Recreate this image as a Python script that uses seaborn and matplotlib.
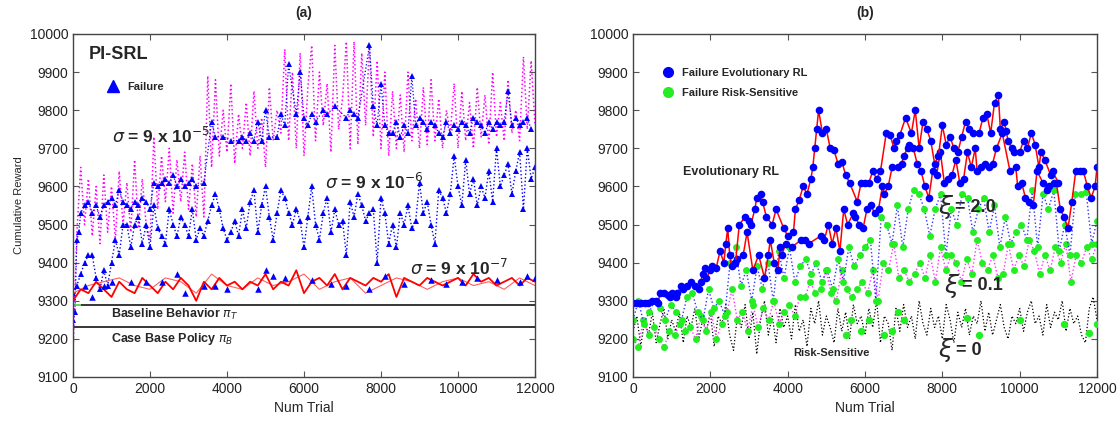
import numpy as np
import seaborn as sns
import matplotlib.pyplot as plt
from matplotlib.lines import Line2D

# ---------------- panel (a) data: PI-SRL ----------------
# sigma = 9e-5 (spiky magenta trace), one value every 100 trials
sig5_trace = [9160, 9480, 9650, 9500, 9620, 9470, 9600, 9450, 9630, 9480,
              9600, 9460, 9640, 9500, 9610, 9480, 9670, 9490, 9620, 9500,
              9460, 9730, 9540, 9680, 9560, 9700, 9530, 9670, 9560, 9690,
              9540, 9660, 9520, 9680, 9520, 9890, 9650, 9880, 9680, 9800,
              9690, 9870, 9660, 9790, 9700, 9820, 9680, 9850, 9700, 9780,
              9650, 9860, 9720, 9800, 9740, 9960, 9720, 9900, 9700, 9950,
              9680, 9860, 9970, 9720, 9900, 9760, 9870, 9690, 9970, 9750,
              9830, 9980, 9700, 9980, 9710, 9950, 9760, 9970, 9730, 9930,
              9700, 9900, 9680, 9850, 9700, 9840, 9690, 9900, 9720, 9830,
              9700, 9860, 9710, 9880, 9720, 9830, 9700, 9800, 9740, 9870,
              9700, 9850, 9720, 9820, 9700, 9860, 9730, 9840, 9710, 9900,
              9730, 9820, 9720, 9880, 9740, 9800, 9720, 9940, 9750, 9930, 9760]

# sigma = 9e-5 failures (blue triangles)
sig5_fail_x = [0, 50, 100, 150, 200, 300, 400, 500, 600, 700, 800, 900, 1000,
               1100, 1200, 1300, 1400, 1500, 1600, 1700, 1800, 1900, 2000, 2100,
               2200, 2300, 2400, 2500, 2600, 2700, 2800, 2900, 3000, 3100, 3200,
               3400, 3600, 3700, 3900, 4100, 4300, 4400, 4500, 4600, 4700, 4800,
               4900, 5000, 5100, 5300, 5400, 5500, 5600, 5800, 5900, 6000, 6100,
               6200, 6300, 6500, 6600, 6800, 7100, 7200, 7300, 7400, 7700, 7800,
               7900, 8000, 8100, 8200, 8300, 8400, 8500, 8600, 8700, 8800, 8900,
               9000, 9100, 9200, 9300, 9400, 9500, 9600, 9700, 9800, 9900, 10000,
               10100, 10200, 10300, 10400, 10500, 10600, 10700, 10800, 10900,
               11000, 11100, 11200, 11300, 11400, 11500, 11600, 11700, 11800, 11900]
sig5_fail_y = [9250, 9270, 9460, 9480, 9530, 9550, 9560, 9530, 9550, 9520, 9550, 9560, 9570,
               9550, 9590, 9560, 9550, 9540, 9560, 9550, 9570, 9560, 9540, 9610,
               9600, 9610, 9620, 9610, 9630, 9600, 9620, 9600, 9610, 9620, 9600,
               9610, 9770, 9730, 9730, 9720, 9720, 9730, 9720, 9740, 9720, 9770,
               9720, 9800, 9730, 9730, 9790, 9760, 9920, 9790, 9900, 9780, 9760,
               9790, 9770, 9800, 9790, 9810, 9780, 9800, 9790, 9780, 9970, 9810,
               9760, 9870, 9760, 9740, 9740, 9770, 9730, 9760, 9740, 9890, 9760,
               9780, 9770, 9750, 9770, 9760, 9740, 9730, 9770, 9740, 9760, 9750,
               9770, 9760, 9740, 9780, 9770, 9760, 9740, 9770, 9750,
               9770, 9760, 9770, 9850, 9760, 9780, 9760, 9770, 9780, 9750]

# sigma = 9e-6 (blue dotted with triangles), one value every 100 trials
sig6_y = [9320, 9340, 9370, 9400, 9420, 9420, 9360, 9330, 9380, 9340,
          9400, 9460, 9420, 9500, 9500, 9440, 9500, 9520, 9450, 9500,
          9440, 9550, 9490, 9470, 9450, 9540, 9500, 9470, 9520, 9500,
          9470, 9540, 9460, 9490, 9470, 9510, 9550, 9580, 9540, 9490,
          9460, 9480, 9510, 9470, 9540, 9490, 9560, 9590, 9480, 9550,
          9600, 9520, 9460, 9530, 9590, 9570, 9530, 9500, 9540, 9510,
          9440, 9520, 9600, 9500, 9460, 9530, 9570, 9480, 9540, 9500,
          9510, 9420, 9560, 9520, 9580, 9550, 9510, 9530, 9540, 9400,
          9570, 9530, 9450, 9500, 9440, 9530, 9500, 9550, 9490, 9510,
          9610, 9530, 9560, 9500, 9450, 9590, 9570, 9530, 9580, 9680,
          9600, 9550, 9670, 9580, 9620, 9550, 9600, 9570, 9640, 9560,
          9700, 9600, 9630, 9660, 9580, 9640, 9690, 9540, 9700, 9620, 9650]

# sigma = 9e-7 (red solid), one value every 200 trials
sig7_y = [9300, 9330, 9320, 9350, 9330, 9310, 9350, 9330, 9320, 9360,
          9340, 9320, 9350, 9330, 9360, 9340, 9300, 9350, 9330, 9360,
          9340, 9350, 9330, 9350, 9340, 9370, 9330, 9350, 9340, 9380,
          9320, 9350, 9360, 9340, 9370, 9330, 9360, 9350, 9340, 9360,
          9350, 9370, 9310, 9360, 9350, 9340, 9360, 9350, 9340, 9350,
          9360, 9340, 9370, 9350, 9360, 9340, 9350, 9360, 9340, 9360, 9350]
# sigma = 9e-7 second run (light red), one value every 400 trials
sig7b_y = [9320, 9340, 9350, 9360, 9340, 9330, 9360, 9350, 9320, 9370,
           9340, 9330, 9360, 9340, 9350, 9370, 9330, 9350, 9360, 9320,
           9340, 9360, 9350, 9330, 9350, 9360, 9340, 9350, 9330, 9360, 9340]
sig7_fail_x = [300, 500, 800, 1000, 1500, 1900, 2300, 2700, 2900, 3400, 3700, 4000,
               4800, 5000, 5200, 5500, 6200, 6700, 7100, 7700, 8100, 8600, 9300,
               9700, 10100, 10500, 11000, 11600, 11800, 12000]
sig7_fail_y = [9340, 9310, 9340, 9350, 9350, 9350, 9350, 9370, 9320, 9340, 9340, 9330,
               9330, 9380, 9365, 9360, 9355, 9345, 9340, 9330, 9365, 9345, 9355,
               9345, 9350, 9360, 9355, 9350, 9365, 9360]

baseline_level = 9290
case_base_level = 9230

# ---------------- panel (b) data ----------------
# Evolutionary RL, upper track
evo_hi_x = [2650, 2750, 2900, 3000, 3050, 3150, 3200, 3300, 3350, 3450, 3600, 3700, 3900,
            4000, 4150, 4200, 4300, 4400, 4500, 4600, 4650, 4700, 4750, 4800, 4900, 5000,
            5100, 5200, 5300, 5400, 5500, 5600, 5800, 5900, 6000, 6100, 6200, 6300, 6400,
            6550, 6650, 6750, 6800, 6900, 7050, 7200, 7300, 7400, 7500, 7600, 7700, 7800,
            7900, 8000, 8100, 8200, 8300, 8400, 8500, 8600, 8700, 8800, 8950, 9050, 9150,
            9250, 9350, 9450, 9500, 9600, 9650, 9700, 9800, 9850, 10000, 10100, 10200,
            10300, 10400, 10500, 10550, 10650, 10800, 10850, 11000]
evo_hi_y = [9400, 9500, 9520, 9510, 9500, 9540, 9570, 9580, 9560, 9520, 9500, 9540, 9490,
            9470, 9480, 9540, 9565, 9600, 9580, 9620, 9650, 9700, 9750, 9800, 9740, 9750,
            9700, 9695, 9660, 9665, 9630, 9610, 9560, 9610, 9610, 9610, 9640, 9620, 9640,
            9740, 9735, 9700, 9720, 9735, 9780, 9740, 9800, 9700, 9770, 9750, 9720, 9660,
            9680, 9760, 9710, 9730, 9700, 9690, 9730, 9770, 9750, 9740, 9740, 9780, 9790,
            9740, 9820, 9840, 9750, 9770, 9745, 9720, 9700, 9690, 9690, 9720, 9700,
            9740, 9710, 9650, 9690, 9670, 9630, 9640, 9610]
# Evolutionary RL, lower track (shares the start)
evo_lo_x = [0, 100, 200, 300, 400, 500, 600, 650, 700, 800, 900, 950, 1000, 1100, 1150,
            1250, 1300, 1400, 1500, 1600, 1700, 1750, 1800, 1850, 1900, 2000, 2050, 2150,
            2250, 2350, 2400, 2450, 2500, 2550, 2650, 2700, 2850, 2950, 3100, 3250, 3400,
            3500, 3550, 3650, 3750, 3800, 3850, 3950, 4100, 4350, 4450, 4550, 4850, 4950,
            5050, 5150, 5250, 5350, 5450, 5550, 5700, 5750, 5850, 5950, 6050, 6150, 6250,
            6350, 6450, 6500, 6600, 6700, 6850, 6950, 7000, 7100, 7150, 7250, 7350, 7450,
            7550, 7650, 7750, 7850, 7950, 8050, 8150, 8250, 8350, 8450, 8550, 8650, 8750,
            8850, 8900, 9000, 9100, 9200, 9300, 9400, 9550, 9750, 9900, 9950, 10050, 10150,
            10250, 10350, 10450, 10600, 10700, 10750, 10900, 10950, 11050, 11150, 11250,
            11350, 11450, 11550, 11650, 11750, 11850, 11950, 12000]
evo_lo_y = [9295, 9295, 9295, 9295, 9295, 9300, 9300, 9295, 9320, 9320, 9315, 9310, 9320, 9310, 9320,
            9340, 9330, 9340, 9350, 9340, 9330, 9350, 9370, 9385, 9360, 9380, 9390, 9385,
            9430, 9400, 9450, 9490, 9420, 9390, 9400, 9410, 9420, 9480, 9380, 9420, 9360,
            9420, 9460, 9400, 9380, 9440, 9420, 9450, 9440, 9460, 9460, 9450, 9470, 9460,
            9500, 9450, 9490, 9430, 9540, 9500, 9530, 9520, 9500, 9490, 9540, 9550, 9530,
            9540, 9600, 9580, 9600, 9650, 9650, 9660, 9680, 9700, 9710, 9700, 9660, 9640,
            9600, 9570, 9640, 9630, 9690, 9610, 9620, 9630, 9670, 9610, 9620, 9690, 9650,
            9700, 9640, 9650, 9660, 9650, 9660, 9700, 9740, 9640, 9650, 9600, 9610, 9570,
            9560, 9550, 9640, 9610, 9590, 9600, 9610, 9610, 9540, 9520, 9490,
            9560, 9640, 9640, 9640, 9600, 9570, 9600, 9650]

xi2_y = [9250, 9300, 9240, 9270, 9300, 9280, 9250, 9290, 9270,
         9250, 9310, 9320, 9270, 9250, 9330, 9280,
         9300, 9260, 9400, 9440, 9340, 9380, 9300,
         9390, 9330, 9400, 9300, 9430, 9360, 9440,
         9350, 9390, 9410, 9370, 9400, 9350, 9380,
         9330, 9410, 9350, 9440, 9390, 9420, 9440,
         9460, 9300, 9520, 9500, 9450, 9550, 9440,
         9540, 9590, 9580, 9540, 9470, 9540, 9580,
         9420, 9540, 9500, 9580, 9570, 9480, 9540,
         9570, 9480, 9550, 9440, 9520, 9450, 9480,
         9500, 9460, 9590, 9440, 9580, 9540, 9590,
         9430, 9500, 9420, 9580, 9580, 9585, 9450, 9510]

xi01_y = [9200, 9180, 9250, 9210, 9230, 9200, 9180, 9220, 9210, 9240, 9220, 9230, 9200,
          9260, 9220, 9270, 9200, 9240, 9270, 9330, 9250, 9270, 9220, 9290, 9230, 9280,
          9250, 9300, 9240, 9270, 9290, 9260, 9310, 9310, 9350, 9320, 9330, 9380, 9320,
          9300, 9380, 9330, 9310, 9330, 9350, 9320, 9380, 9300, 9400, 9380, 9450, 9360,
          9380, 9350, 9370, 9400, 9360, 9420, 9350, 9440, 9380, 9420, 9400, 9350, 9410,
          9370, 9460, 9400, 9380, 9420, 9360, 9370, 9450, 9380, 9420, 9390, 9460, 9430,
          9370, 9420, 9380, 9440, 9400, 9450, 9350, 9420, 9400, 9440, 9410, 9450]

xi0_y = [9220, 9260, 9180, 9250, 9210, 9270, 9190, 9240, 9280, 9200,
         9250, 9220, 9270, 9190, 9260, 9230, 9280, 9200, 9250, 9220,
         9270, 9180, 9260, 9240, 9290, 9210, 9170, 9260, 9230, 9290,
         9200, 9270, 9160, 9250, 9300, 9210, 9260, 9190, 9280, 9230,
         9260, 9200, 9290, 9220, 9250, 9180, 9280, 9240, 9300, 9210,
         9260, 9230, 9190, 9280, 9220, 9270, 9200, 9290, 9240, 9260,
         9210, 9280, 9230, 9300, 9190, 9260, 9240, 9170, 9280, 9220,
         9290, 9230, 9260, 9200, 9300, 9240, 9210, 9280, 9230, 9260,
         9200, 9290, 9250, 9190, 9270, 9230, 9280, 9210, 9260, 9240,
         9300, 9220, 9270, 9210, 9250, 9290, 9230, 9200, 9260, 9240,
         9280, 9220, 9270, 9300, 9240, 9260, 9210, 9290, 9230, 9270,
         9250, 9300, 9220, 9280, 9240, 9260, 9210, 9190, 9280, 9310, 9250]
xi0_fail_x = [5500, 5650, 5900, 6100, 6500, 6700, 6850, 7000, 8650, 8950, 10000, 11150, 11800, 12000]
xi0_fail_y = [9210, 9250, 9220, 9250, 9210, 9220, 9270, 9250, 9255, 9210, 9250, 9240, 9215, 9240]

trials = lambda vals: np.linspace(0, 12000, len(vals))

sns.set_style("ticks")
plt.rcParams["font.family"] = ["Liberation Sans", "DejaVu Sans"]

fig = plt.figure(figsize=(11.19, 4.23), dpi=100)
ax_a = fig.add_axes([73 / 1119, 1 - 377 / 423, 462 / 1119, 343 / 423])
ax_b = fig.add_axes([633 / 1119, 1 - 377 / 423, 464 / 1119, 343 / 423])

# ---- panel (a)
sns.lineplot(x=trials(sig5_trace), y=sig5_trace, ax=ax_a, color="#ff00ff", lw=1.1, ls=":")
sns.lineplot(x=sig5_fail_x, y=sig5_fail_y, ax=ax_a, color="#0000ff", lw=0.9, ls=":",
             marker="^", markersize=4.5, markeredgewidth=0)
sns.lineplot(x=trials(sig6_y), y=sig6_y, ax=ax_a, color="#0000ff", lw=1.0, ls=":",
             marker="^", markersize=4.5, markeredgewidth=0)
sns.lineplot(x=trials(sig7b_y), y=sig7b_y, ax=ax_a, color="#ff6060", lw=0.8, ls="-")
sns.lineplot(x=trials(sig7_y), y=sig7_y, ax=ax_a, color="#ff0000", lw=1.3)
sns.scatterplot(x=sig7_fail_x, y=sig7_fail_y, ax=ax_a, color="#0000ff", marker="^",
                s=22, linewidth=0, zorder=5)
ax_a.hlines(baseline_level, 200, 12000, color="black", lw=1.1)
ax_a.hlines(baseline_level, 0, 200, color="#33cc33", lw=1.1)
ax_a.hlines(case_base_level, 0, 12000, color="black", lw=1.1)

ax_a.text(400, 9945, "PI-SRL", fontsize=13, fontweight="bold", va="center")
ax_a.text(1000, 9733, r"$\sigma$ = 9 x 10$^{-5}$", fontsize=12.5, fontweight="bold", va="center")
ax_a.text(6550, 9613, r"$\sigma$ = 9 x 10$^{-6}$", fontsize=12.5, fontweight="bold", va="center")
ax_a.text(8750, 9386, r"$\sigma$ = 9 x 10$^{-7}$", fontsize=12.5, fontweight="bold", va="center")
ax_a.text(980, 9264, r"Baseline Behavior $\pi_T$", fontsize=9, fontweight="bold", va="center")
ax_a.text(980, 9200, r"Case Base Policy $\pi_B$", fontsize=9, fontweight="bold", va="center")
ax_a.legend(handles=[Line2D([], [], ls="", marker="^", color="#0000ff", markersize=8,
                            label="Failure")],
            loc="upper left", bbox_to_anchor=(0.04, 0.89), frameon=False,
            prop={"size": 8, "weight": "bold"}, handletextpad=0.3)
ax_a.set_ylabel("Cumulative Reward", fontsize=8)

# ---- panel (b)
sns.lineplot(x=trials(xi0_y), y=xi0_y, ax=ax_b, color="black", lw=0.9, ls=":")
sns.lineplot(x=trials(xi01_y), y=xi01_y, ax=ax_b, color="#ff33ff", lw=1.0, ls=":",
             marker="o", markersize=5, markeredgewidth=0, markerfacecolor="#22ee22")
sns.lineplot(x=trials(xi2_y), y=xi2_y, ax=ax_b, color="#3333ff", lw=1.0, ls=":",
             marker="o", markersize=5, markeredgewidth=0, markerfacecolor="#22ee22")
sns.scatterplot(x=xi0_fail_x, y=xi0_fail_y, ax=ax_b, color="#22ee22", s=28, linewidth=0, zorder=5)
for ex, ey in [(evo_lo_x, evo_lo_y), (evo_hi_x, evo_hi_y)]:
    sns.lineplot(x=ex, y=ey, ax=ax_b, color="#ff0000", lw=1.1,
                 marker="o", markersize=5.5, markeredgewidth=0, markerfacecolor="#0000ff")

ax_b.text(1300, 9637, "Evolutionary RL", fontsize=9, fontweight="bold", va="center")
ax_b.text(4150, 9163, "Risk-Sensitive", fontsize=8, fontweight="bold", va="center")
ax_b.text(7880, 9546, r"$\xi$", fontsize=18, va="center")
ax_b.text(8330, 9546, "= 2.0", fontsize=13, fontweight="bold", va="center")
ax_b.text(8050, 9340, r"$\xi$", fontsize=18, va="center")
ax_b.text(8500, 9340, "= 0.1", fontsize=13, fontweight="bold", va="center")
ax_b.text(7900, 9170, r"$\xi$", fontsize=18, va="center")
ax_b.text(8350, 9170, "= 0", fontsize=13, fontweight="bold", va="center")
ax_b.legend(handles=[Line2D([], [], ls="", marker="o", color="#0000ff", markersize=7,
                            label="Failure Evolutionary RL"),
                     Line2D([], [], ls="", marker="o", color="#22ee22", markersize=7,
                            label="Failure Risk-Sensitive")],
            loc="upper left", bbox_to_anchor=(0.03, 0.93), frameon=False,
            prop={"size": 8, "weight": "bold"}, handletextpad=0.3, labelspacing=0.9)

for ax, title in [(ax_a, "(a)"), (ax_b, "(b)")]:
    ax.set_xlim(0, 12000)
    ax.set_ylim(9100, 10000)
    ax.set_xticks(range(0, 12001, 2000))
    ax.set_yticks(range(9100, 10001, 100))
    ax.tick_params(direction="in", top=True, right=True, length=4, labelsize=10,
                   labelcolor="#222222", color="#555555")
    ax.set_xlabel("Num Trial", fontsize=10)
    ax.set_title(title, fontsize=10, fontweight="bold", pad=12)
    for sp in ax.spines.values():
        sp.set_color("#444444")
        sp.set_linewidth(1.0)

fig.savefig("out.png", dpi=100)
